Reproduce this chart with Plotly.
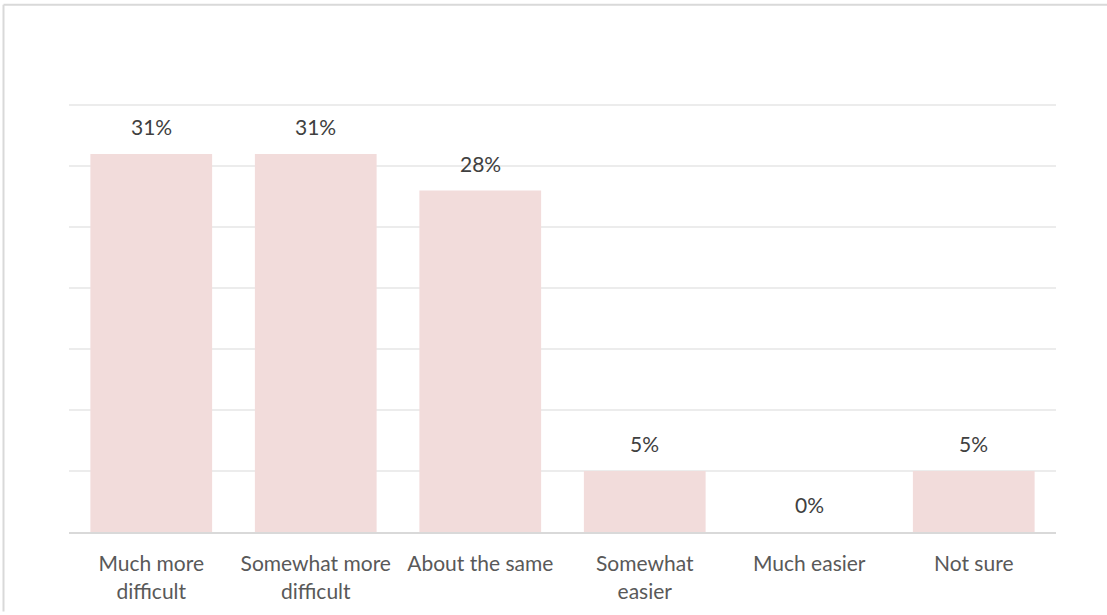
import plotly.graph_objects as go

categories = ["Much more difficult", "Somewhat more difficult", "About the same",
              "Somewhat easier", "Much easier", "Not sure"]
tick_labels = ["Much more<br>difficult", "Somewhat more<br>difficult", "About the same",
               "Somewhat<br>easier", "Much easier", "Not sure"]
values = [31, 31, 28, 5, 0, 5]
value_labels = ["31%", "31%", "28%", "5%", "0%", "5%"]

W, H = 1107, 615
L, R, T, B = 69, 51, 104, 80
YMAX = 35.1

fig = go.Figure()
fig.add_trace(go.Bar(
    x=categories, y=values,
    marker=dict(color="#f2dcdb", line=dict(width=0)),
    hoverinfo="skip",
))

for c, v, t in zip(categories, values, value_labels):
    fig.add_annotation(x=c, y=v, text=t, showarrow=False, yanchor="bottom",
                       yshift=13, font=dict(family="Lato", size=21, color="#404040"))

# page border (document frame)
pw = W - L - R
ph = H - T - B
def px_to_x(px):
    return (px - L) / pw
def py_to_y(py):
    return (H - B - py) / ph

fig.add_shape(type="line", xref="paper", yref="paper",
              x0=px_to_x(3.5), x1=px_to_x(W), y0=py_to_y(4), y1=py_to_y(4),
              line=dict(color="#d9d9d9", width=2), layer="above")
fig.add_shape(type="line", xref="paper", yref="paper",
              x0=px_to_x(3.5), x1=px_to_x(3.5), y0=py_to_y(4), y1=py_to_y(H),
              line=dict(color="#d9d9d9", width=2), layer="above")

fig.update_layout(
    width=W, height=H,
    margin=dict(l=L, r=R, t=T, b=B, pad=0),
    paper_bgcolor="white", plot_bgcolor="white",
    bargap=0.26,
    showlegend=False,
    hovermode=False,
    font=dict(family="Lato", size=21, color="#595959"),
    xaxis=dict(
        tickmode="array", tickvals=categories, ticktext=tick_labels,
        showgrid=False, showline=True, linecolor="#d9d9d9", linewidth=2,
        ticks="", tickfont=dict(family="Lato", size=21, color="#595959"),
        ticklabelstandoff=12, fixedrange=True,
    ),
    yaxis=dict(
        range=[0, YMAX], tickmode="array", tickvals=[5, 10, 15, 20, 25, 30, 35],
        showticklabels=False, showgrid=True,
        gridcolor="#ececec", gridwidth=2, zeroline=False, showline=False,
        fixedrange=True,
    ),
)

fig.write_html("out.html", config={"displayModeBar": False},
               post_script="document.body.style.margin='0';")
